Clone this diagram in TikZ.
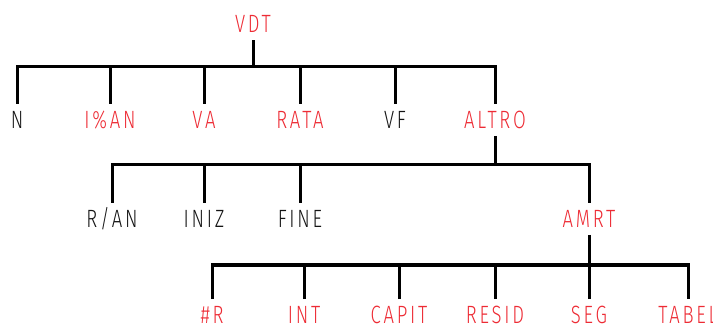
\documentclass[tikz,border=0pt]{standalone}
\usepackage{fontspec}
\newfontfamily\hpfont[FakeStretch=0.74,LetterSpace=11]{Fira Sans Light}
\definecolor{hpred}{RGB}{237,43,52}
\definecolor{hpblack}{RGB}{20,20,20}
\tikzset{
  lbl/.style={font=\hpfont\fontsize{25}{25}\selectfont, inner sep=0pt, outer sep=0pt,
    text height=17pt, text depth=0pt, anchor=center},
  redl/.style={lbl, text=hpred},
  blkl/.style={lbl, text=hpblack},
  wire/.style={draw=black, line width=3pt, line join=miter, line cap=butt},
  gapA/.style={shorten <=7.5pt},
  gapB/.style={shorten <=7.5pt, shorten >=7.5pt}
}
\begin{document}
\begin{tikzpicture}[x=1pt,y=-1pt]
\useasboundingbox (0,0) rectangle (713,326);
% level 0
\node[redl] (vdt) at (253,24.5) {VDT};
% level 1
\node[blkl] (n) at (17,120) {N};
\node[redl] (ian) at (110,120) {I\%AN};
\node[redl] (va) at (204,120) {VA};
\node[redl] (rata) at (300,120) {RATA};
\node[blkl] (vf) at (395,120) {VF};
\node[redl] (altro) at (495,120) {ALTRO};
% level 2
\node[blkl] (ran) at (112,219) {R/AN};
\node[blkl] (iniz) at (204,219) {INIZ};
\node[blkl] (fine) at (300,219) {FINE};
\node[redl] (amrt) at (589,219) {AMRT};
% level 3
\node[redl] (nr) at (212,315) {\#R};
\node[redl] (int) at (304,315) {INT};
\node[redl] (capit) at (399,315) {CAPIT};
\node[redl] (resid) at (495,315) {RESID};
\node[redl] (seg) at (589,315) {SEG};
\node[redl] (tabel) at (688,315) {TABEL};
% bars
\coordinate (b1) at (253,67);
\coordinate (b2) at (495,165);
\coordinate (b3) at (589,265);
\draw[wire,gapA] (vdt.south) -- (b1);
\draw[wire,gapB] (n.north) |- (b1) -| (altro.north);
\foreach \c in {ian,va,rata,vf} \draw[wire,gapA] (\c.north) -- (\c.north |- b1);
\draw[wire,gapA] (altro.south) -- (b2);
\draw[wire,gapB] (ran.north) |- (b2) -| (amrt.north);
\foreach \c in {iniz,fine} \draw[wire,gapA] (\c.north) -- (\c.north |- b2);
\draw[wire,gapA] (amrt.south) -- (b3);
\draw[wire,gapB] (nr.north) |- (b3) -| (tabel.north);
\foreach \c in {int,capit,resid,seg} \draw[wire,gapA] (\c.north) -- (\c.north |- b3);
\end{tikzpicture}
\end{document}
